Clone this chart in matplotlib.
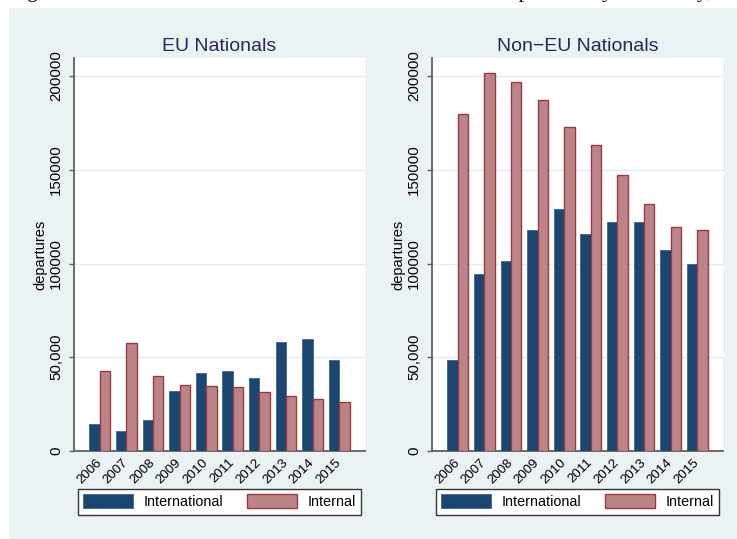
import matplotlib.pyplot as plt
import numpy as np
from matplotlib.patches import Rectangle

plt.rcParams["font.family"] = ["Liberation Sans", "DejaVu Sans"]

years = ["2006", "2007", "2008", "2009", "2010", "2011", "2012", "2013", "2014", "2015"]

# EU nationals
eu_international = [14500, 10500, 16800, 32000, 41600, 42500, 38900, 58200, 59700, 48800]
eu_internal = [42500, 57500, 40200, 35000, 34500, 33900, 31300, 29100, 27700, 26400]

# Non-EU nationals
noneu_international = [48300, 94200, 101100, 117600, 129000, 115800, 121900, 121900, 107300, 100000]
noneu_internal = [179900, 201600, 196800, 187400, 172800, 163100, 147300, 131500, 119700, 118100]

ytick_values = [0, 50000, 100000, 150000, 200000]
ytick_labels = ["0", "50,000", "100000", "150000", "200000"]

series_names = ["International", "Internal"]
caption = ("Figure 30: Annual number of international versus internal "
           "departures by nationality, 2006\u20132015")

BG = "#eaf2f3"
NAVY = "#1b4670"
ROSE = "#bd8487"
ROSE_EDGE = "#993a42"
AXIS_GRAY = "#5f5f5f"
TITLE_COLOR = "#1f2d5a"

W, H = 737, 539
fig = plt.figure(figsize=(W / 100, H / 100), dpi=100)
fig.patch.set_facecolor("white")
fig.patches.append(Rectangle((9 / W, 0), 1, (H - 8) / H, transform=fig.transFigure,
                             facecolor=BG, edgecolor="none", zorder=-10))

# caption of the page, almost entirely cut off by the top edge
fig.text(10 / W, 1 + 2.5 / H, caption, fontfamily="Liberation Serif", fontsize=15,
         va="baseline", ha="left", color="black")


def draw_panel(ax, title, intl, internal):
    x = np.arange(len(years))
    w = 0.39
    ax.set_facecolor("white")
    ax.bar(x - w / 2, intl, w, color=NAVY, edgecolor="#3a6590", linewidth=0.6,
           label=series_names[0], zorder=3)
    ax.bar(x + w / 2, internal, w, color=ROSE, edgecolor=ROSE_EDGE, linewidth=1.0,
           label=series_names[1], zorder=3)

    ax.set_xlim(-0.97, len(years) - 1 + 0.97)
    ax.set_ylim(0, 209600)

    ax.set_xticks(x)
    ax.set_xticklabels(years, rotation=45, ha="right", va="center",
                       rotation_mode="anchor", fontsize=9.6)
    ax.tick_params(axis="x", length=0, pad=7)

    ax.set_yticks(ytick_values)
    ax.set_yticklabels(ytick_labels, rotation=90, va="center", fontsize=10.8)
    ax.tick_params(axis="y", length=3.6, width=1, color=AXIS_GRAY, pad=4.3)

    ax.yaxis.grid(True, color="#e3ecee", linewidth=1, zorder=0)
    ax.set_axisbelow(True)

    for s in ["top", "right"]:
        ax.spines[s].set_visible(False)
    for s in ["left", "bottom"]:
        ax.spines[s].set_color(AXIS_GRAY)
        ax.spines[s].set_linewidth(1.3)

    ax.set_ylabel("departures", fontsize=10.5)
    ax.yaxis.set_label_coords(-0.116, 0.5)
    ax.yaxis.label.set_va("center")

    ax.set_title(title, fontsize=14, color=TITLE_COLOR, pad=5)

    leg = ax.legend(ncol=2, loc="upper center", bbox_to_anchor=(0.5, -0.0967),
                    frameon=True, fancybox=False, edgecolor="#333333",
                    facecolor="white", framealpha=1, fontsize=10.4,
                    handlelength=3.45, handleheight=1.1, handletextpad=0.7,
                    columnspacing=1.7, borderpad=0.38, borderaxespad=0)
    leg.get_frame().set_linewidth(1.0)


ax1 = fig.add_axes([74 / W, 88 / H, 291 / W, 393 / H])
ax2 = fig.add_axes([432 / W, 88 / H, 291 / W, 393 / H])

draw_panel(ax1, "EU Nationals", eu_international, eu_internal)
draw_panel(ax2, "Non\u2212EU Nationals", noneu_international, noneu_internal)

fig.savefig("out.png", dpi=100, facecolor=fig.get_facecolor())
